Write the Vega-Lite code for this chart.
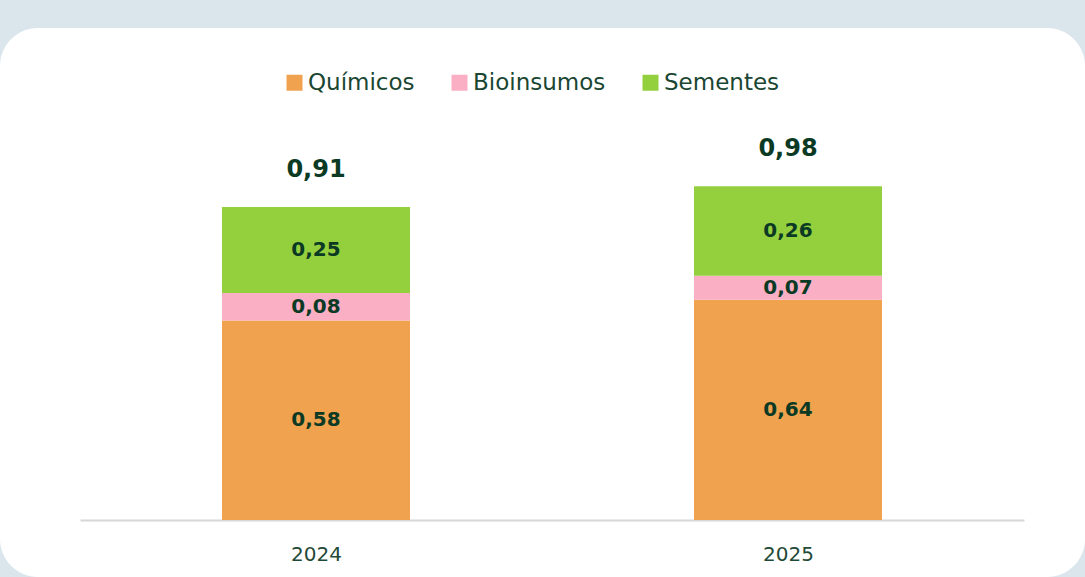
{
  "$schema": "https://vega.github.io/schema/vega-lite/v6.json",
  "width": 1085,
  "height": 549,
  "autosize": {"type": "none"},
  "padding": {"top": 28, "left": 0, "right": 0, "bottom": 0},
  "background": "#dbe6ec",
  "config": {
    "view": {"stroke": null, "fill": "white", "cornerRadius": 38},
    "font": "DejaVu Sans"
  },
  "data": {
    "values": [
      {"year": 2024, "cat": "Químicos", "value": 0.58, "total": 0.91},
      {"year": 2024, "cat": "Bioinsumos", "value": 0.08, "total": 0.91},
      {"year": 2024, "cat": "Sementes", "value": 0.25, "total": 0.91},
      {"year": 2025, "cat": "Químicos", "value": 0.64, "total": 0.98},
      {"year": 2025, "cat": "Bioinsumos", "value": 0.07, "total": 0.98},
      {"year": 2025, "cat": "Sementes", "value": 0.26, "total": 0.98}
    ]
  },
  "transform": [
    {"calculate": "indexof(['Químicos','Bioinsumos','Sementes'], datum.cat)", "as": "o"},
    {"stack": "value", "groupby": ["year"], "sort": [{"field": "o", "order": "ascending"}], "as": ["v0", "v1"]},
    {"calculate": "(datum.v0 + datum.v1) / 2", "as": "mid"},
    {"calculate": "replace(format(datum.value, '.2f'), '.', ',')", "as": "lbl"},
    {"calculate": "replace(format(datum.total, '.2f'), '.', ',')", "as": "tlbl"}
  ],
  "layer": [
    {
      "mark": {"type": "bar", "width": 188, "orient": "vertical"},
      "encoding": {
        "x": {
          "field": "year", "type": "quantitative",
          "scale": {"domain": [2023.5, 2025.5], "range": [80, 1024], "padding": 0, "nice": false, "zero": false},
          "axis": {"values": [2024, 2025], "format": "d", "orient": "bottom", "offset": -57, "domain": true, "domainColor": "#d6d6d6", "domainWidth": 2, "ticks": false, "grid": false, "labelPadding": 24, "labelFontSize": 20, "labelColor": "#1f4a36", "labelFont": "DejaVu Sans", "title": null}
        },
        "y": {
          "field": "v1", "type": "quantitative",
          "scale": {"domain": [-0.1657, 1.43], "nice": false, "zero": false},
          "axis": null
        },
        "y2": {"field": "v0"},
        "color": {
          "field": "cat", "type": "nominal",
          "scale": {"domain": ["Químicos", "Bioinsumos", "Sementes"], "range": ["#f0a24e", "#fbafc4", "#94d03e"]},
          "legend": {
            "orient": "none", "legendX": 283, "legendY": 43, "direction": "horizontal",
            "title": null, "symbolType": "square", "symbolSize": 256, "symbolStrokeWidth": 0,
            "labelFontSize": 23, "labelFont": "DejaVu Sans", "labelColor": "#1a4632",
            "columnPadding": 33, "labelOffset": 2
          }
        }
      }
    },
    {
      "mark": {"type": "text", "fontSize": 20, "fontWeight": "bold", "color": "#0b3a24", "baseline": "middle", "align": "center"},
      "encoding": {
        "x": {"field": "year", "type": "quantitative"},
        "y": {"field": "mid", "type": "quantitative"},
        "text": {"field": "lbl", "type": "nominal"}
      }
    },
    {
      "transform": [{"filter": "datum.cat == 'Sementes'"}],
      "mark": {"type": "text", "fontSize": 24, "fontWeight": "bold", "color": "#0b3a24", "baseline": "middle", "align": "center", "dy": -37},
      "encoding": {
        "x": {"field": "year", "type": "quantitative"},
        "y": {"field": "v1", "type": "quantitative"},
        "text": {"field": "tlbl", "type": "nominal"}
      }
    }
  ]
}
